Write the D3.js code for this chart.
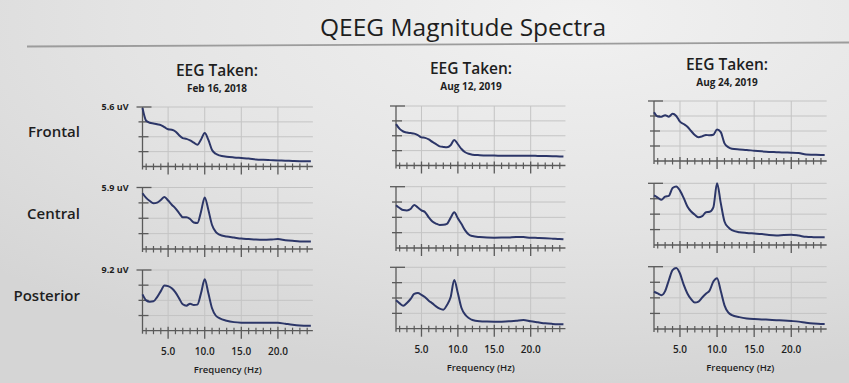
<!DOCTYPE html>
<html>
<head>
<meta charset="utf-8">
<script src="https://cdn.jsdelivr.net/npm/d3@7/dist/d3.min.js"></script>
<style>
  html, body { margin: 0; padding: 0; background: #e3e3e3; }
  svg { display: block; }
  text { font-family: "Open Sans", "Noto Sans", sans-serif; fill: #1e1e1e; }
</style>
</head>
<body>
<svg id="chart" width="849" height="383"></svg>
<script>
// ---------------- DATA ----------------
const title = "QEEG Magnitude Spectra";
const headerText = "EEG Taken:";
const examDates = ["Feb 16, 2018", "Aug 12, 2019", "Aug 24, 2019"];
const regions = ["Frontal", "Central", "Posterior"];
const regionMaxLabels = ["5.6 uV", "5.9 uV", "9.2 uV"];
const regionMax = [5.6, 5.9, 9.2];
const xTickValues = [5, 10, 15, 20];
const xTickLabels = ["5.0", "10.0", "15.0", "20.0"];
const xAxisTitle = "Frequency (Hz)";

// frequency bins (Hz)
const freqs = [1.5,2,2.5,3,3.5,4,4.5,5,5.5,6,6.5,7,7.5,8,8.5,9,9.5,10,10.5,11,11.5,12,
               13,14,15,16,17,18,19,20,21,22,23,24,24.5];

// magnitude (uV) — Feb 16, 2018
const frontalFeb2018   = [5.5,4.3,4.12,4.05,3.98,3.9,3.7,3.5,3.46,3.3,2.95,2.67,2.6,2.45,2.25,2.05,2.55,3.15,2.5,1.55,1.2,1.05,
                          0.92,0.85,0.8,0.75,0.67,0.63,0.6,0.57,0.55,0.52,0.5,0.5,0.5];
const centralFeb2018   = [5.35,4.9,4.6,4.38,4.45,4.7,5.0,4.65,4.25,3.9,3.45,3.05,3.05,2.88,2.55,2.5,3.6,4.95,3.74,2.3,1.65,1.38,
                          1.2,1.1,1.0,0.95,0.9,0.88,0.9,0.95,0.85,0.78,0.73,0.73,0.73];
const posteriorFeb2018 = [5.5,4.6,4.4,4.45,5.1,6.0,6.85,6.75,6.42,5.8,4.9,4.0,3.8,4.1,3.9,3.95,5.7,7.78,5.66,3.4,2.3,1.9,
                          1.5,1.3,1.22,1.2,1.2,1.2,1.2,1.2,1.05,0.9,0.8,0.76,0.76];
// Aug 12, 2019
const frontalAug12     = [3.9,3.45,3.2,3.1,3.05,3.0,2.85,2.65,2.6,2.45,2.22,2.02,1.8,1.75,1.72,1.9,2.41,2.0,1.55,1.25,1.1,1.02,
                          0.97,0.94,0.93,0.92,0.91,0.91,0.91,0.92,0.9,0.89,0.87,0.85,0.84];
const centralAug12     = [4.12,3.85,3.65,3.62,3.75,4.15,3.9,3.62,3.45,2.95,2.55,2.35,2.22,2.23,2.32,2.9,3.43,2.85,2.3,1.7,1.3,1.15,
                          1.05,1.0,0.99,1.0,1.02,1.07,1.05,0.99,0.97,0.94,0.9,0.86,0.83];
const posteriorAug12   = [4.25,3.8,3.45,3.85,4.45,5.2,5.35,5.07,4.7,4.2,3.8,3.35,3.0,2.85,3.55,4.7,7.3,5.3,3.1,2.1,1.6,1.3,
                          1.12,1.07,1.05,1.06,1.1,1.2,1.3,1.1,0.95,0.8,0.72,0.67,0.65];
// Aug 24, 2019
const frontalAug24     = [4.55,4.16,4.14,4.28,4.14,4.4,4.2,3.67,3.45,3.2,2.8,2.42,2.22,2.3,2.43,2.4,2.45,2.95,2.7,1.65,1.3,1.15,
                          1.08,1.03,0.96,0.9,0.85,0.82,0.79,0.78,0.75,0.6,0.58,0.56,0.56];
const centralAug24     = [4.75,4.54,4.32,4.62,4.7,5.45,5.6,5.2,4.5,3.68,3.2,2.9,2.65,2.75,3.14,3.18,3.6,5.9,4.0,2.25,1.7,1.42,
                          1.22,1.15,1.1,1.05,0.96,0.92,0.96,0.98,0.9,0.78,0.75,0.73,0.73];
const posteriorAug24   = [5.5,5.25,5.0,5.6,7.2,8.7,9.0,8.2,6.55,5.25,4.4,3.9,4.05,4.65,5.2,5.7,7.0,7.5,5.6,3.5,2.45,2.05,
                          1.75,1.56,1.47,1.42,1.36,1.3,1.25,1.18,1.09,0.92,0.8,0.74,0.74];

const seriesGrid = [
  [frontalFeb2018,   frontalAug12,   frontalAug24],
  [centralFeb2018,   centralAug12,   centralAug24],
  [posteriorFeb2018, posteriorAug12, posteriorAug24]
];

// ---------------- LAYOUT (photo perspective) ----------------
const W = 849, H = 383;
const xDomain = [1.5, 24.5];
const colLayout = [
  { x0: 142.5, k: 7.32, head: 217, headY: 75.5, dateY: 91.5 },
  { x0: 396,   k: 7.28, head: 471, headY: 74,   dateY: 90 },
  { x0: 654,   k: 7.42, head: 727, headY: 70,   dateY: 86 }
];
// [top(max), bottom(0)] per row, per column
const panelY = [
  [[107, 166.5], [106, 165.5], [101, 161]],
  [[187.5, 249], [186.7, 248], [183.3, 245]],
  [[270, 330.7], [267.3, 328.7], [266.7, 329]]
];
const rowLabelY = [137.3, 219.3, 301];

const svg = d3.select("#chart");
const defs = svg.append("defs");
const grad = defs.append("radialGradient").attr("id", "paper")
  .attr("cx", 0.68).attr("cy", 0.05).attr("r", 0.95);
grad.append("stop").attr("offset", "0%").attr("stop-color", "#f1f1f1");
grad.append("stop").attr("offset", "55%").attr("stop-color", "#e4e4e4");
grad.append("stop").attr("offset", "100%").attr("stop-color", "#d5d5d5");
svg.append("rect").attr("width", W).attr("height", H).attr("fill", "url(#paper)");

// title and rule
svg.append("text").attr("x", 463).attr("y", 36).attr("text-anchor", "middle")
  .attr("font-size", 24).attr("textLength", 286).attr("lengthAdjust", "spacingAndGlyphs")
  .text(title);
svg.append("line").attr("x1", 27).attr("y1", 46.5).attr("x2", W).attr("y2", 42.5)
  .attr("stroke", "#9c9c9c").attr("stroke-width", 1.8);

// column headers
colLayout.forEach((c, j) => {
  svg.append("text").attr("x", c.head).attr("y", c.headY).attr("text-anchor", "middle")
    .attr("font-size", 15.5).attr("font-weight", 600).text(headerText);
  svg.append("text").attr("x", c.head).attr("y", c.dateY).attr("text-anchor", "middle")
    .attr("font-size", 10).attr("font-weight", 700).attr("fill", "#2a2a2a").text(examDates[j]);
});

// row labels
regions.forEach((r, i) => {
  svg.append("text").attr("x", 80).attr("y", rowLabelY[i]).attr("text-anchor", "end")
    .attr("font-size", 15).attr("font-weight", 600).text(r);
});

const line = d3.line().curve(d3.curveMonotoneX);

seriesGrid.forEach((row, i) => {
  row.forEach((vals, j) => {
    const c = colLayout[j];
    const [top, bot] = panelY[i][j];
    const x = d3.scaleLinear().domain(xDomain).range([c.x0, c.x0 + (xDomain[1] - xDomain[0]) * c.k]);
    const y = d3.scaleLinear().domain([0, regionMax[i]]).range([bot, top]);
    const g = svg.append("g");
    const xr = x.range()[1] + 2;

    // horizontal gridlines
    const yTicks = d3.range(1, 5).map(q => regionMax[i] * q / 4);
    g.selectAll(".hg").data(yTicks).join("line")
      .attr("x1", c.x0).attr("x2", xr).attr("y1", d => y(d)).attr("y2", d => y(d))
      .attr("stroke", "#c4c4c4").attr("stroke-width", 1);
    // vertical gridlines
    g.selectAll(".vg").data(xTickValues).join("line")
      .attr("x1", d => x(d)).attr("x2", d => x(d)).attr("y1", top).attr("y2", bot)
      .attr("stroke", "#c4c4c4").attr("stroke-width", 1);

    // y axis
    g.append("line").attr("x1", c.x0).attr("x2", c.x0).attr("y1", top).attr("y2", bot + 3)
      .attr("stroke", "#5a5a5a").attr("stroke-width", 1.3);
    g.selectAll(".yt").data(yTicks).join("line")
      .attr("x1", d => c.x0 - (d === regionMax[i] ? 6 : 4))
      .attr("x2", d => c.x0 + (d === regionMax[i] ? 9 : 6))
      .attr("y1", d => y(d)).attr("y2", d => y(d))
      .attr("stroke", "#5a5a5a").attr("stroke-width", 1.3);

    // x axis
    g.append("line").attr("x1", c.x0).attr("x2", xr).attr("y1", bot).attr("y2", bot)
      .attr("stroke", "#5a5a5a").attr("stroke-width", 1.3);
    const minor = d3.range(2, 25).filter(v => !xTickValues.includes(v));
    g.selectAll(".mt").data(minor).join("line")
      .attr("x1", d => x(d)).attr("x2", d => x(d)).attr("y1", bot - 3).attr("y2", bot + 3.5)
      .attr("stroke", "#5a5a5a").attr("stroke-width", 1.2);
    g.selectAll(".Mt").data(xTickValues).join("line")
      .attr("x1", d => x(d)).attr("x2", d => x(d)).attr("y1", bot - 4).attr("y2", bot + 8)
      .attr("stroke", "#5a5a5a").attr("stroke-width", 1.3);

    // max label (first column only)
    if (j === 0) {
      g.append("text").attr("x", c.x0 - 14).attr("y", top).attr("dy", "0.35em")
        .attr("text-anchor", "end").attr("font-size", 9).attr("font-weight", 700)
        .attr("fill", "#2a2a2a").text(regionMaxLabels[i]);
    }
    // x labels (last row only)
    if (i === seriesGrid.length - 1) {
      g.selectAll(".xl").data(xTickValues).join("text")
        .attr("x", d => x(d)).attr("y", bot + 24).attr("text-anchor", "middle")
        .attr("font-size", 10).attr("font-weight", 600).attr("fill", "#2a2a2a")
        .text((d, k) => xTickLabels[k]);
      g.append("text").attr("x", (x(1.5) + x(24.5)) / 2 + 1).attr("y", bot + 42)
        .attr("text-anchor", "middle").attr("font-size", 9.5).attr("font-weight", 600)
        .attr("fill", "#2a2a2a").text(xAxisTitle);
    }

    // spectrum
    const pts = freqs.map((f, k) => [x(f), y(vals[k])]);
    g.append("path").attr("d", line(pts)).attr("fill", "none")
      .attr("stroke", "#2c3668").attr("stroke-width", 2).attr("stroke-linejoin", "round");
  });
});
</script>
</body>
</html>
